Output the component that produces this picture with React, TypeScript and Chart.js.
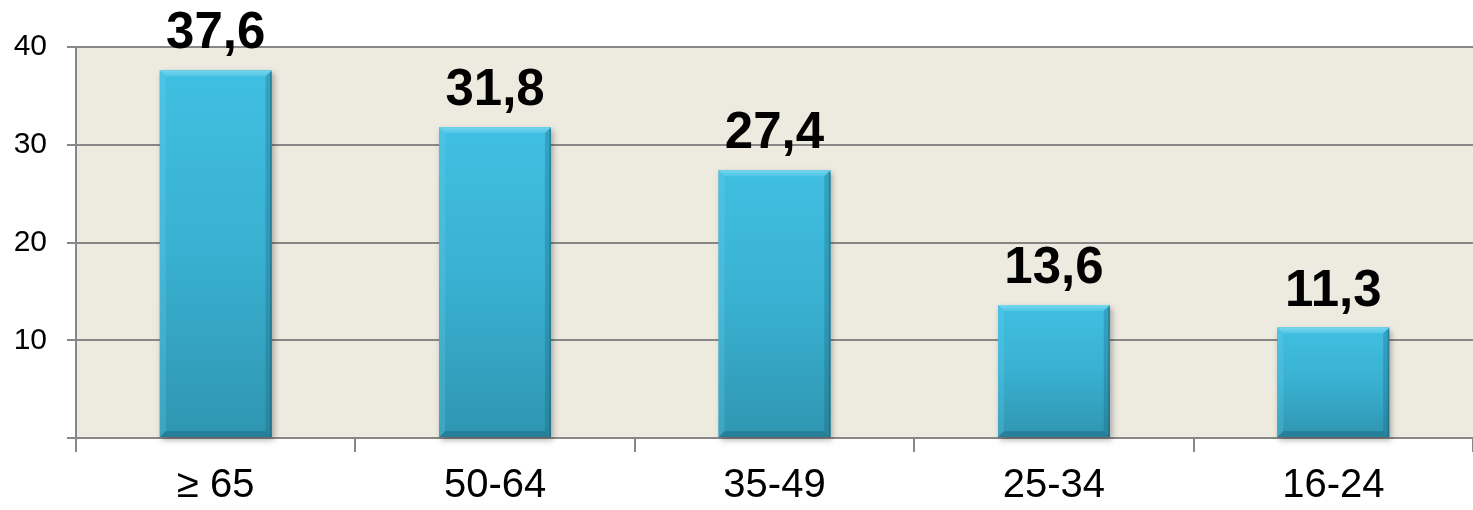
import React, { useEffect, useRef } from "react";
import { Chart, registerables } from "chart.js";

Chart.register(...registerables);

const categories = ["≥ 65", "50-64", "35-49", "25-34", "16-24"];
const values = [37.6, 31.8, 27.4, 13.6, 11.3];
const yTicks = [0, 10, 20, 30, 40];

const FONT = "'Liberation Sans', Arial, sans-serif";
const GRID = "#878787";

const fmt = (v: number) => v.toFixed(1).replace(".", ",");

const plotBg = {
  id: "plotBg",
  beforeDraw(chart: any) {
    const { ctx, chartArea } = chart;
    ctx.save();
    ctx.fillStyle = "#EDEAE0";
    ctx.fillRect(chartArea.left, chartArea.top, chartArea.right - chartArea.left, chartArea.bottom - chartArea.top);
    ctx.restore();
  },
};

const barStyle = {
  id: "barStyle",
  afterDatasetsDraw(chart: any) {
    const { ctx } = chart;
    const meta = chart.getDatasetMeta(0);
    meta.data.forEach((el: any, i: number) => {
      const p = el.getProps(["x", "y", "base", "width"], true);
      const l = p.x - p.width / 2;
      const r = p.x + p.width / 2;
      const t = p.y;
      const b = p.base;
      const w = r - l;
      const h = b - t;
      ctx.save();
      ctx.shadowColor = "rgba(0,0,0,0.3)";
      ctx.shadowBlur = 6;
      ctx.shadowOffsetX = 2;
      ctx.shadowOffsetY = 3;
      const g = ctx.createLinearGradient(0, t, 0, b);
      g.addColorStop(0, "#40BFE2");
      g.addColorStop(0.5, "#39B0D1");
      g.addColorStop(1, "#2F96B1");
      ctx.fillStyle = g;
      ctx.fillRect(l, t, w, h);
      ctx.restore();

      const bv = 6;
      ctx.save();
      // top bevel
      ctx.beginPath();
      ctx.moveTo(l, t);
      ctx.lineTo(r, t);
      ctx.lineTo(r - bv, t + bv);
      ctx.lineTo(l + bv, t + bv);
      ctx.closePath();
      const gt = ctx.createLinearGradient(0, t, 0, t + bv);
      gt.addColorStop(0, "#78D6EF");
      gt.addColorStop(1, "#4EC5E6");
      ctx.fillStyle = gt;
      ctx.fill();
      // left bevel
      ctx.beginPath();
      ctx.moveTo(l, t);
      ctx.lineTo(l + bv, t + bv);
      ctx.lineTo(l + bv, b - bv);
      ctx.lineTo(l, b);
      ctx.closePath();
      ctx.fillStyle = "rgba(120,215,240,0.22)";
      ctx.fill();
      // right bevel
      ctx.beginPath();
      ctx.moveTo(r, t);
      ctx.lineTo(r - bv, t + bv);
      ctx.lineTo(r - bv, b - bv);
      ctx.lineTo(r, b);
      ctx.closePath();
      ctx.fillStyle = "rgba(20,90,110,0.28)";
      ctx.fill();
      // bottom bevel
      ctx.beginPath();
      ctx.moveTo(l, b);
      ctx.lineTo(l + bv, b - bv);
      ctx.lineTo(r - bv, b - bv);
      ctx.lineTo(r, b);
      ctx.closePath();
      ctx.fillStyle = "rgba(20,80,100,0.32)";
      ctx.fill();
      // thin dark outline on right edge
      ctx.fillStyle = "rgba(20,70,90,0.35)";
      ctx.fillRect(r - 1.5, t + 2, 1.5, h - 2);
      ctx.restore();

      // data label
      ctx.save();
      ctx.fillStyle = "#000000";
      ctx.font = `bold 51px ${FONT}`;
      ctx.textAlign = "center";
      ctx.textBaseline = "alphabetic";
      ctx.fillText(fmt(values[i]), p.x, t - 22);
      ctx.restore();
    });
  },
};

export default function App() {
  const ref = useRef<HTMLCanvasElement | null>(null);

  useEffect(() => {
    document.body.style.margin = "0";
    if (!ref.current) return;
    const chart = new Chart(ref.current, {
      type: "bar",
      data: {
        labels: categories,
        datasets: [
          {
            data: values,
            backgroundColor: "#38AFD0",
            borderWidth: 0,
            barPercentage: 0.4,
            categoryPercentage: 1,
          },
        ],
      },
      options: {
        responsive: false,
        animation: false,
        devicePixelRatio: 1,
        layout: { padding: { top: 47, left: 0, right: 0, bottom: 0 } },
        plugins: {
          legend: { display: false },
          tooltip: { enabled: false },
          title: { display: false },
        },
        scales: {
          x: {
            grid: {
              display: true,
              offset: true,
              drawOnChartArea: false,
              drawTicks: true,
              tickLength: 14,
              color: GRID,
              lineWidth: 2,
            },
            border: { display: true, color: GRID, width: 2 },
            ticks: {
              color: "#000000",
              font: { family: FONT, size: 40 },
              padding: 10,
              maxRotation: 0,
            },
            afterFit(scale: any) {
              scale.height = 72;
            },
          },
          y: {
            min: 0,
            max: 40,
            afterBuildTicks(scale: any) {
              scale.ticks = yTicks.map((v) => ({ value: v }));
            },
            grid: {
              display: true,
              drawOnChartArea: true,
              drawTicks: true,
              tickLength: 9,
              color: GRID,
              lineWidth: 2,
            },
            border: { display: true, color: GRID, width: 2 },
            ticks: {
              color: "#000000",
              font: { family: FONT, size: 30 },
              padding: 20,
              callback: (v: any) => (Number(v) === 0 ? "" : String(v)),
            },
            afterFit(scale: any) {
              scale.width = 76;
            },
          },
        },
      },
      plugins: [plotBg, barStyle],
    });
    return () => chart.destroy();
  }, []);

  return (
    <canvas
      ref={ref}
      width={1473}
      height={510}
      style={{ position: "absolute", left: 0, top: 0, display: "block", width: 1473, height: 510 }}
    />
  );
}
